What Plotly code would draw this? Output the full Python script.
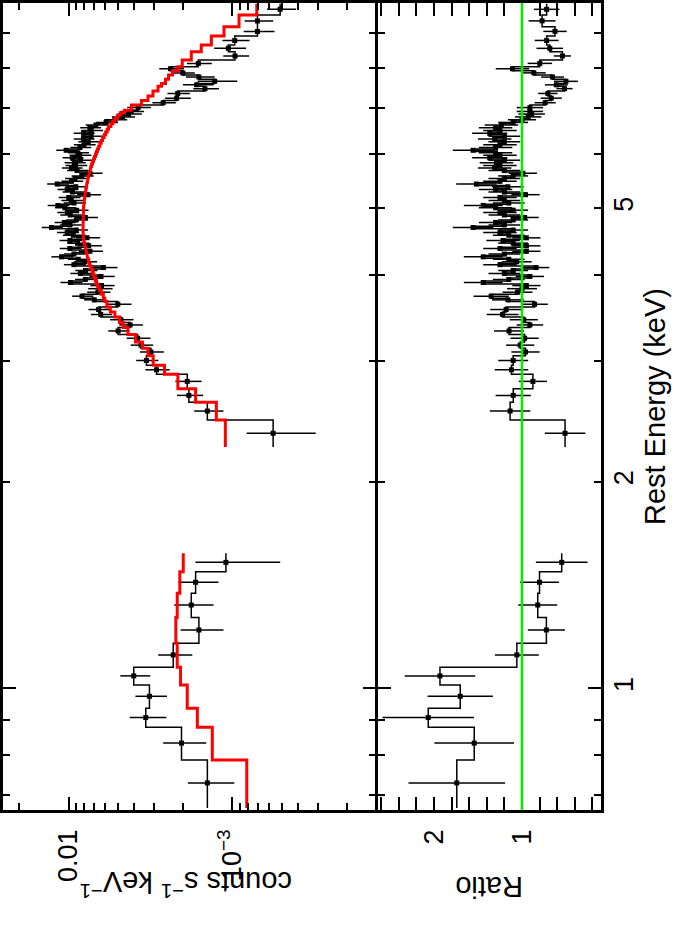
import plotly.graph_objects as go

# low-energy group: bin edges (keV), model (counts s^-1 keV^-1), data/model ratio and its error
lo_edges = [0.670, 0.787, 0.878, 0.936, 1.012, 1.074, 1.164, 1.269, 1.376, 1.479, 1.573]
lo_model = [8.17e-4, 1.326e-3, 1.637e-3, 1.886e-3, 2.072e-3, 2.171e-3, 2.214e-3, 2.171e-3, 2.093e-3, 1.995e-3]
lo_ratio = [1.740, 1.542, 2.064, 1.701, 1.931, 1.058, 0.723, 0.821, 0.801, 0.549]
lo_ratio_err = [0.548, 0.452, 0.519, 0.371, 0.40, 0.249, 0.211, 0.221, 0.22, 0.293]

# high-energy group
hi_edges = [
    2.246, 2.459, 2.610, 2.732, 2.867,
    2.954, 3.051, 3.128, 3.194, 3.276, 3.354, 3.411, 3.474, 3.532, 3.592,
    3.659, 3.70, 3.75, 3.80, 3.84, 3.88, 3.92, 3.96, 4.00, 4.04,
    4.08, 4.12, 4.16, 4.20, 4.23, 4.27, 4.31, 4.35, 4.39, 4.43,
    4.47, 4.51, 4.55, 4.59, 4.63, 4.67, 4.71, 4.75, 4.79, 4.83,
    4.87, 4.91, 4.95, 4.99, 5.03, 5.07, 5.11, 5.16, 5.21, 5.26,
    5.30, 5.35, 5.40, 5.45, 5.50, 5.55, 5.60, 5.65, 5.70, 5.75,
    5.80, 5.85, 5.90, 5.95, 6.00, 6.05, 6.10, 6.16, 6.22, 6.28,
    6.34, 6.40, 6.46, 6.52, 6.58, 6.64, 6.70, 6.76, 6.83, 6.89,
    6.95, 7.07, 7.18, 7.29, 7.41, 7.53, 7.60, 7.71, 7.82, 7.93,
    8.04, 8.22, 8.45, 8.65, 8.91, 9.19, 9.56, 9.93,
]
hi_model = [
    1.104e-3, 1.253e-3, 1.677e-3, 2.152e-3, 2.596e-3,
    3.044e-3, 3.275e-3, 3.540e-3, 3.906e-3, 4.343e-3, 4.627e-3, 4.895e-3, 5.216e-3, 5.556e-3, 5.837e-3,
    6.004e-3, 6.132e-3, 6.308e-3, 6.487e-3, 6.626e-3, 6.749e-3, 6.864e-3, 6.961e-3, 7.060e-3, 7.161e-3,
    7.283e-3, 7.418e-3, 7.513e-3, 7.586e-3, 7.662e-3, 7.727e-3, 7.793e-3, 7.858e-3, 7.937e-3, 8.016e-3,
    8.073e-3, 8.118e-3, 8.141e-3, 8.152e-3, 8.164e-3, 8.164e-3, 8.164e-3, 8.164e-3, 8.164e-3, 8.152e-3,
    8.141e-3, 8.128e-3, 8.118e-3, 8.095e-3, 8.073e-3, 8.050e-3, 8.016e-3, 7.970e-3, 7.925e-3, 7.881e-3,
    7.836e-3, 7.782e-3, 7.727e-3, 7.672e-3, 7.608e-3, 7.544e-3, 7.470e-3, 7.396e-3, 7.323e-3, 7.243e-3,
    7.140e-3, 7.040e-3, 6.942e-3, 6.845e-3, 6.749e-3, 6.654e-3, 6.552e-3, 6.443e-3, 6.317e-3, 6.193e-3,
    6.063e-3, 5.937e-3, 5.812e-3, 5.698e-3, 5.516e-3, 5.363e-3, 5.216e-3, 5.035e-3, 4.827e-3, 4.562e-3,
    4.134e-3, 3.590e-3, 3.275e-3, 3.053e-3, 2.844e-3, 2.708e-3, 2.559e-3, 2.453e-3, 2.319e-3, 2.152e-3,
    2.023e-3, 1.782e-3, 1.548e-3, 1.344e-3, 1.125e-3, 9.11e-4, 7.10e-4,
]
hi_ratio = [
    0.511, 1.135, 1.099, 0.876, 1.119,
    1.10, 0.96, 1.02, 0.97, 1.147, 0.91, 0.98, 1.22, 1.18, 0.857,
    1.16, 1.35, 1.05, 1.00, 0.95, 1.44, 1.15, 0.91, 1.20, 1.10,
    0.84, 1.25, 1.06, 1.15, 1.44, 1.20, 0.95, 1.25, 0.95, 1.10,
    1.215, 0.95, 1.15, 1.25, 1.10, 1.555, 1.20, 1.30, 1.10, 0.97,
    1.20, 1.25, 1.10, 1.30, 1.44, 1.15, 1.20, 1.25, 0.96, 1.20,
    1.30, 1.16, 1.517, 1.25, 1.20, 1.10, 0.99, 1.20, 1.31, 1.25,
    1.29, 1.20, 1.366, 1.25, 1.30, 1.555, 1.30, 1.25, 1.20, 1.31,
    1.20, 1.366, 1.25, 1.30, 1.234, 1.10, 1.00, 0.93, 0.89, 0.91,
    0.91, 0.737, 0.668, 0.706, 0.517, 0.61, 0.501, 0.653, 0.865, 1.108,
    0.798, 0.541, 0.684, 0.72, 0.625, 0.772, 0.72,
]
hi_ratio_err = [
    0.23, 0.23, 0.20, 0.16, 0.19,
    0.17, 0.16, 0.16, 0.16, 0.17, 0.15, 0.16, 0.18, 0.18, 0.15,
    0.18, 0.20, 0.17, 0.17, 0.16, 0.22, 0.18, 0.16, 0.18, 0.17,
    0.15, 0.19, 0.17, 0.18, 0.22, 0.18, 0.16, 0.19, 0.16, 0.17,
    0.19, 0.16, 0.18, 0.19, 0.17, 0.23, 0.18, 0.19, 0.17, 0.16,
    0.18, 0.19, 0.17, 0.19, 0.22, 0.18, 0.18, 0.19, 0.16, 0.18,
    0.19, 0.18, 0.23, 0.19, 0.18, 0.17, 0.16, 0.18, 0.19, 0.19,
    0.19, 0.18, 0.20, 0.19, 0.19, 0.23, 0.19, 0.19, 0.18, 0.19,
    0.18, 0.20, 0.19, 0.19, 0.19, 0.17, 0.16, 0.15, 0.15, 0.15,
    0.15, 0.12, 0.12, 0.11, 0.092, 0.13, 0.136, 0.13, 0.134, 0.19,
    0.138, 0.097, 0.151, 0.135, 0.133, 0.153, 0.145,
]

count_ticks = [0.001, 0.01]
count_labels = ["10<sup>\u22123</sup>", "0.01"]
count_minor = [2e-4, 3e-4, 4e-4, 5e-4, 6e-4, 7e-4, 8e-4, 9e-4,
               2e-3, 3e-3, 4e-3, 5e-3, 6e-3, 7e-3, 8e-3, 9e-3, 0.02]
ratio_ticks = [1, 2]
ratio_minor = [0.2, 0.4, 0.6, 0.8, 1.2, 1.4, 1.6, 1.8, 2.2, 2.4, 2.6]
energy_labels = [1, 2, 5]
energy_minor = [0.7, 0.8, 0.9, 2, 3, 4, 5, 6, 7, 8, 9]

FONT = "Liberation Sans, Arial, Helvetica, sans-serif"
E_RANGE = [-0.177, 0.998]


def steps(edges, vals):
    xs, ys = [], []
    for i, v in enumerate(vals):
        xs += [v, v]
        ys += [edges[i], edges[i + 1]]
    return xs, ys


groups = [
    (lo_edges, lo_model, lo_ratio, lo_ratio_err),
    (hi_edges, hi_model, hi_ratio, hi_ratio_err),
]

data_x, data_y, mod_x, mod_y, rat_x, rat_y = [], [], [], [], [], []
cen, cnt, cnt_err, rat, rat_err = [], [], [], [], []
for edges, model, ratio, rerr in groups:
    counts = [m * r for m, r in zip(model, ratio)]
    sx, sy = steps(edges, counts)
    data_x += sx + [None]
    data_y += sy + [None]
    sx, sy = steps(edges, model)
    mod_x += sx + [None]
    mod_y += sy + [None]
    sx, sy = steps(edges, ratio)
    rat_x += sx + [None]
    rat_y += sy + [None]
    cen += [(a + b) / 2 for a, b in zip(edges[:-1], edges[1:])]
    cnt += counts
    cnt_err += [m * e for m, e in zip(model, rerr)]
    rat += ratio
    rat_err += rerr

fig = go.Figure()
fig.add_trace(go.Scatter(x=data_x, y=data_y, mode="lines", line=dict(color="black", width=1.5),
                         xaxis="x", yaxis="y"))
fig.add_trace(go.Scatter(x=cnt, y=cen, mode="markers", marker=dict(symbol="square", size=5, color="black"),
                         error_x=dict(type="data", array=cnt_err, color="black", thickness=1.5, width=0),
                         xaxis="x", yaxis="y"))
fig.add_trace(go.Scatter(x=mod_x, y=mod_y, mode="lines", line=dict(color="#ff0000", width=3),
                         xaxis="x", yaxis="y"))
fig.add_trace(go.Scatter(x=rat_x, y=rat_y, mode="lines", line=dict(color="black", width=1.5),
                         xaxis="x2", yaxis="y2"))
fig.add_trace(go.Scatter(x=rat, y=cen, mode="markers", marker=dict(symbol="square", size=5, color="black"),
                         error_x=dict(type="data", array=rat_err, color="black", thickness=1.5, width=0),
                         xaxis="x2", yaxis="y2"))
# invisible trace so the label axis gets drawn
fig.add_trace(go.Scatter(x=[1], y=[1], mode="markers", marker=dict(opacity=0), hoverinfo="skip",
                         xaxis="x2", yaxis="y3"))
fig.add_shape(type="line", x0=1, x1=1, xref="x2", y0=0, y1=1, yref="y2 domain",
              line=dict(color="#00ee00", width=2.5))

frame = dict(showline=True, linecolor="black", linewidth=2.5, mirror="allticks", ticks="inside",
             tickcolor="black", tickwidth=1.8, ticklen=13, showgrid=False, zeroline=False,
             automargin=False)
tickfont = dict(family=FONT, size=27, color="black")
minor_ticks = dict(tickmode="array", ticks="inside", ticklen=7, tickwidth=1.8, tickcolor="black")

fig.update_layout(
    width=678, height=950,
    margin=dict(l=3, r=77, t=3, b=140, autoexpand=False),
    paper_bgcolor="white", plot_bgcolor="white",
    showlegend=False,
    font=dict(family=FONT, color="black"),
    xaxis=dict(frame, domain=[0, 0.6228], anchor="y", type="log", range=[-1.600, -3.873],
               tickmode="array", tickvals=count_ticks, ticktext=count_labels, tickangle=-90,
               tickfont=tickfont, ticklabelstandoff=6,
               minor=dict(minor_ticks, tickvals=count_minor)),
    xaxis2=dict(frame, domain=[0.627, 1], anchor="y2", range=[2.635, 0.103],
                tickmode="array", tickvals=ratio_ticks, ticktext=["1", "2"], tickangle=-90,
                tickfont=tickfont, ticklabelstandoff=6,
                minor=dict(minor_ticks, tickvals=ratio_minor)),
    yaxis=dict(frame, domain=[0, 1], anchor="x", type="log", range=E_RANGE,
               tickmode="array", tickvals=[1], showticklabels=False,
               minor=dict(minor_ticks, tickvals=energy_minor)),
    yaxis2=dict(frame, domain=[0, 1], anchor="x2", type="log", range=E_RANGE,
                tickmode="array", tickvals=[1], showticklabels=False,
                minor=dict(minor_ticks, tickvals=energy_minor)),
    yaxis3=dict(overlaying="y2", anchor="x2", side="right", type="log", range=E_RANGE,
                tickmode="array", tickvals=energy_labels, ticktext=[str(v) for v in energy_labels],
                ticks="", showline=False, showgrid=False, zeroline=False, tickangle=-90,
                tickfont=tickfont, ticklabelstandoff=4, automargin=False,
                title=dict(text="Rest Energy (keV)", font=dict(family=FONT, size=29), standoff=4)),
    annotations=[
        dict(text="counts s<sup>\u22121</sup> keV<sup>\u22121</sup>", xref="paper", yref="paper",
             x=0.306, y=-0.091, showarrow=False, textangle=180,
             font=dict(family=FONT, size=29, color="black"), xanchor="center", yanchor="middle"),
        dict(text="Ratio", xref="paper", yref="paper", x=0.8127, y=-0.0955, showarrow=False,
             textangle=180, font=dict(family=FONT, size=29, color="black"),
             xanchor="center", yanchor="middle"),
    ],
)

fig.write_html("out.html", config={"displayModeBar": False},
               post_script="document.body.style.margin = '0';")
